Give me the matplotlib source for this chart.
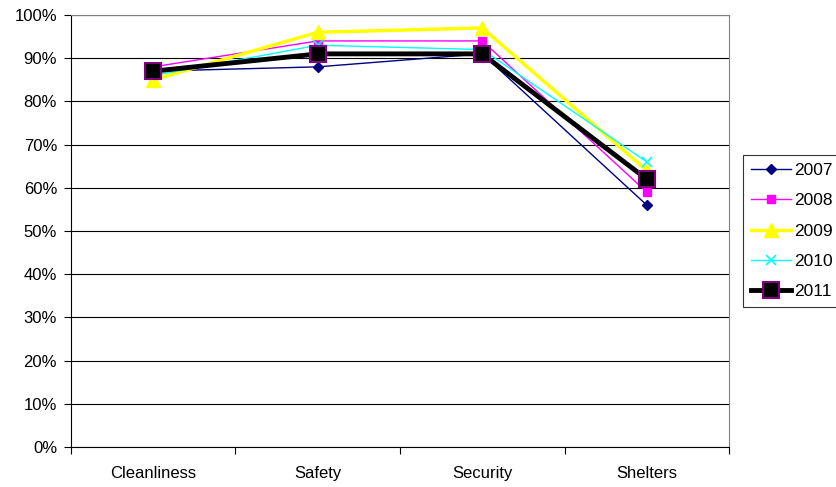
import matplotlib.pyplot as plt
from matplotlib.ticker import FuncFormatter

plt.rcParams['font.family'] = ['Liberation Sans', 'DejaVu Sans']

# survey categories and yearly satisfaction scores (%)
categorias = ["Cleanliness", "Safety", "Security", "Shelters"]
anos = ["2007", "2008", "2009", "2010", "2011"]
v2007 = [87, 88, 91, 56]
v2008 = [88, 94, 94, 59]
v2009 = [85, 96, 97, 64]
v2010 = [86, 93, 92, 66]
v2011 = [87, 91, 91, 62]

series = [v2007, v2008, v2009, v2010, v2011]
estilos = [
    dict(color="#000080", marker="D", markersize=5, lw=1),
    dict(color="#FF00FF", marker="s", markersize=6, lw=1),
    dict(color="#FFFF00", marker="^", markersize=10, lw=2.5),
    dict(color="#00FFFF", marker="x", markersize=7, mew=1.2, lw=1),
    dict(color="black", marker="s", markersize=12, lw=3.5,
         markerfacecolor="black", markeredgecolor="#800080", mew=1.5),
]

fig = plt.figure(figsize=(8.37, 4.87), dpi=100)
ax = fig.add_axes([0.0848, 0.0821, 0.7862, 0.8871])

x = [i + 0.5 for i in range(len(categorias))]
for ano, vals, est in zip(anos, series, estilos):
    ax.plot(x, vals, label=ano, **est)

ax.set_xlim(0, len(categorias))
ax.set_ylim(0, 100)
ax.set_yticks(range(0, 101, 10))
ax.yaxis.set_major_formatter(FuncFormatter(lambda v, p: f"{int(v)}%"))
ax.set_xticks(range(len(categorias) + 1))
ax.set_xticklabels([])
ax.set_xticks(x, minor=True)
ax.set_xticklabels(categorias, minor=True)
ax.tick_params(axis="x", which="minor", length=0, pad=14, labelsize=12)
ax.tick_params(axis="x", which="major", length=5, color="black")
ax.tick_params(axis="y", length=5, labelsize=12, pad=5)

ax.grid(axis="y", color="black", lw=0.8)
ax.set_axisbelow(True)
for lado in ["top", "right"]:
    ax.spines[lado].set_color("#808080")
for lado in ["left", "bottom"]:
    ax.spines[lado].set_color("black")

leg = ax.legend(loc="center left", bbox_to_anchor=(1.021, 0.5), frameon=True,
                fancybox=False, edgecolor="black", fontsize=12.5,
                handlelength=2.3, borderpad=0.45, labelspacing=0.88,
                handletextpad=0.2, borderaxespad=0)
leg.get_frame().set_linewidth(0.8)

fig.savefig("out.png", dpi=100)
